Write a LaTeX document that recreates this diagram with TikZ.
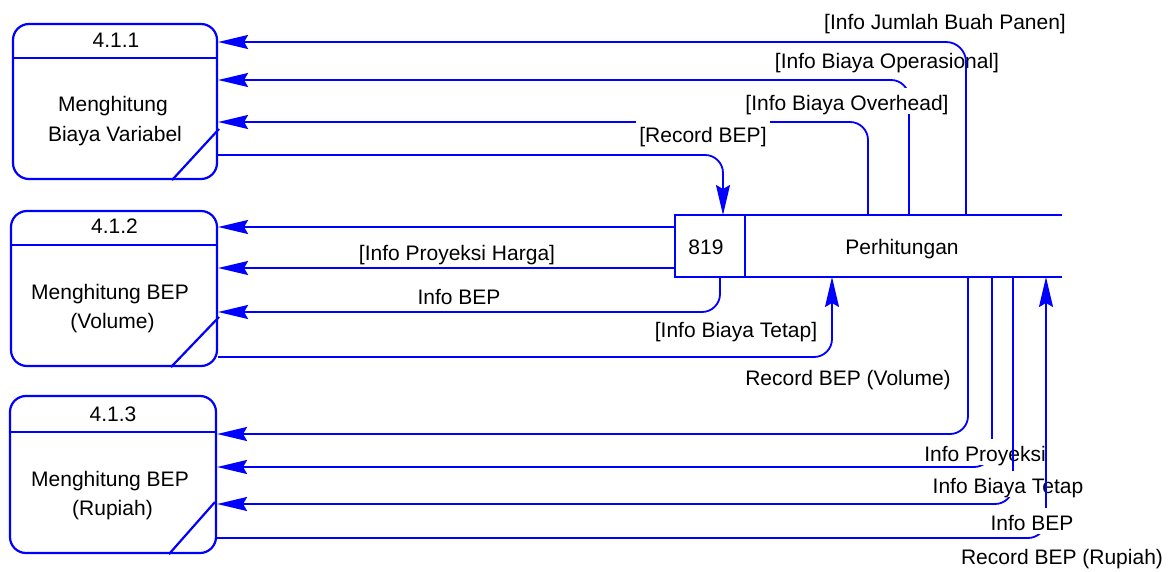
\documentclass[tikz,border=0pt]{standalone}
\usepackage{fontspec}
\setmainfont{Liberation Sans}
\usetikzlibrary{arrows.meta}
\definecolor{dfdblue}{RGB}{0,0,255}
\begin{document}
\begin{tikzpicture}[x=1pt,y=-1pt,
  proc/.style={draw=dfdblue, line width=2.2pt, rounded corners=16pt, inner sep=0pt},
  boxrule/.style={draw=dfdblue, line width=2.2pt},
  rule/.style={draw=dfdblue, line width=2pt},
  lab/.style={font=\fontsize{21}{25}\selectfont, inner xsep=3pt, inner ysep=1pt,
              text height=21.5pt, text depth=2.5pt, anchor=base},
  mask/.style={lab, fill=white},
  flow/.style={draw=dfdblue, line width=1.8pt, rounded corners=18pt,
               -{Stealth[length=30pt,width=14pt,inset=4pt]}},
]
\fill[white] (0,0) rectangle (1176,572);
\useasboundingbox (0,0) rectangle (1176,572);

% ---- processes ----
\node[proc, minimum width=204pt, minimum height=155pt] (p1) at (115,101.5) {};
\draw[boxrule] (p1.west |- 0,58) -- (p1.east |- 0,58);
\draw[boxrule] (172,0 |- p1.south) -- (219,129);
\node[lab] (p1-id) at (116,48) {4.1.1};
\node[lab] (p1-l1) at (113,112) {Menghitung};
\node[lab] (p1-l2) at (115,142) {Biaya Variabel};

\node[proc, minimum width=206pt, minimum height=155pt] (p2) at (114,288.5) {};
\draw[boxrule] (p2.west |- 0,245) -- (p2.east |- 0,245);
\draw[boxrule] (171,0 |- p2.south) -- (219,317);
\node[lab] (p2-id) at (114.5,234) {4.1.2};
\node[lab] (p2-l1) at (110,299) {Menghitung BEP};
\node[lab] (p2-l2) at (112.5,328) {(Volume)};

\node[proc, minimum width=206pt, minimum height=157pt] (p3) at (113,474.5) {};
\draw[boxrule] (p3.west |- 0,432) -- (p3.east |- 0,432);
\draw[boxrule] (169,0 |- p3.south) -- (215,502);
\node[lab] (p3-id) at (113,421) {4.1.3};
\node[lab] (p3-l1) at (110,486) {Menghitung BEP};
\node[lab] (p3-l2) at (112.5,515) {(Rupiah)};

% ---- data store ----
\node[minimum width=387pt, minimum height=62pt, inner sep=0pt, outer sep=0pt] (ds) at (868.5,246) {};
\draw[rule] (ds.north east) -- (ds.north west) -- (ds.south west) -- (ds.south east);
\draw[rule] (745,0 |- ds.north) -- (745,0 |- ds.south);
\node[lab] (ds-id) at (706,255) {819};
\node[lab] (ds-name) at (902,255) {Perhitungan};

% ---- flows of 4.1.2 ----
\draw[flow] (ds.west |- 0,227) -- (p2.east |- 0,227);
\draw[flow] (ds.west |- 0,268) -- (p2.east |- 0,268);
\draw[flow] (720,0 |- ds.south) |- (p2.east |- 0,312);
\draw[flow] (p2.east |- 0,357) -| (832,0 |- ds.south);
\node[lab] (f-harga) at (457,261) {[Info Proyeksi Harga]};
\node[lab] (f-bep2) at (459,305) {Info BEP};
\node[lab] (f-tetap2) at (736,337) {[Info Biaya Tetap]};
\node[lab] (f-vol) at (848,385) {Record BEP (Volume)};

% ---- flows of 4.1.1 ----
\draw[flow] (p1.east |- 0,155) -| (723,0 |- ds.north);
\draw[flow] (909,0 |- ds.north) |- (p1.east |- 0,80);
\node[mask] (f-over) at (847,111) {[Info Biaya Overhead]};
\draw[flow] (868,0 |- ds.north) |- (p1.east |- 0,122);
\node[mask] (f-rec) at (703,143) {[Record BEP]};
\node[lab] (f-ops) at (887,69) {[Info Biaya Operasional]};
\draw[flow, rounded corners=20pt] (966,0 |- ds.north) |- (p1.east |- 0,42);
\node[lab] (f-panen) at (945,29.5) {[Info Jumlah Buah Panen]};

% ---- flows of 4.1.3 ----
\draw[flow] (968,0 |- ds.south) |- (p3.east |- 0,434);
\draw[flow] (992,0 |- ds.south) |- (p3.east |- 0,467);
\node[mask] (f-proy) at (985,461) {Info Proyeksi};
\draw[flow] (1013,0 |- ds.south) |- (p3.east |- 0,504);
\node[mask] (f-tetap3) at (1008,493) {Info Biaya Tetap};
\draw[flow] (p3.east |- 0,538) -| (1046,0 |- ds.south);
\node[mask] (f-bep3) at (1032,530) {Info BEP};
\node[lab] (f-rup) at (1062,564) {Record BEP (Rupiah)};
\end{tikzpicture}
\end{document}
